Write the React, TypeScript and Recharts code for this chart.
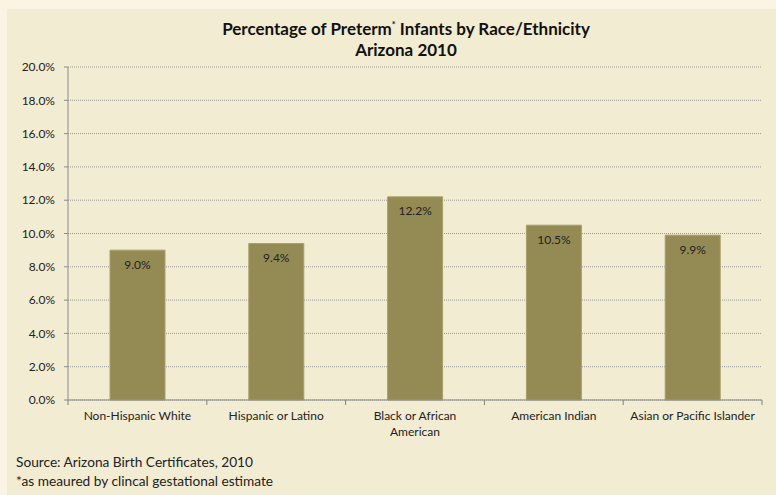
import { BarChart, Bar, XAxis, YAxis, CartesianGrid, LabelList } from "recharts";

const categories = ["Non-Hispanic White", "Hispanic or Latino", "Black or African\nAmerican", "American Indian", "Asian or Pacific Islander"];
const pretermPct = [9.0, 9.4, 12.2, 10.5, 9.9];
const yTicks = [0, 2, 4, 6, 8, 10, 12, 14, 16, 18, 20];

const chartData = categories.map((name, i) => ({ name, value: pretermPct[i] }));

const FONT = "Lato, 'Open Sans', sans-serif";
const HALF_BAND = (776 - 68 - 14) / categories.length / 2;

// Excel-style ticks sit on the category boundaries, not the centres
const CategoryTick = ({ x, y, payload, index }: any) => {
  const lines = String(payload.value).split("\n");
  const last = index === categories.length - 1;
  return (
    <g>
      <line x1={x - HALF_BAND} x2={x - HALF_BAND} y1={y - 8} y2={y - 3} stroke="#808080" strokeWidth={1} />
      {last && <line x1={x + HALF_BAND} x2={x + HALF_BAND} y1={y - 8} y2={y - 3} stroke="#808080" strokeWidth={1} />}
      <text x={x} y={y} textAnchor="middle" fill="#222" fontSize={12} fontFamily={FONT}>
        {lines.map((line, i) => (
          <tspan key={i} x={x} dy={i === 0 ? 12 : 16}>{line}</tspan>
        ))}
      </text>
    </g>
  );
};

const App = () => {
  return (
    <div style={{ position: "absolute", left: 0, top: 0, width: 776, height: 495, background: "#FBF3E4", fontFamily: FONT }}>
      <style>{"body{margin:0}"}</style>
      <div style={{ position: "absolute", left: 7, top: 9, width: 769, height: 486, background: "#F2ECD2" }} />
      <div style={{ position: "absolute", left: 0, top: 0 }}>
        <BarChart width={776} height={495} data={chartData} margin={{ top: 67, right: 14, bottom: 55, left: 0 }} barCategoryGap="30%">
          <CartesianGrid vertical={false} stroke="#9a9a9a" strokeDasharray="1 1" />
          <XAxis dataKey="name" tick={<CategoryTick />} tickLine={false} tickSize={0} tickMargin={8} axisLine={{ stroke: "#8c8c8c" }} height={40} interval={0} />
          <YAxis
            domain={[0, 20]}
            ticks={yTicks}
            tickFormatter={(v) => `${v.toFixed(1)}%`}
            width={68}
            tick={{ fill: "#222", fontSize: 12, fontFamily: FONT }}
            tickLine={{ stroke: "#8c8c8c" }}
            tickSize={4}
            tickMargin={9}
            axisLine={{ stroke: "#8c8c8c" }}
          />
          <Bar dataKey="value" fill="#948A54" stroke="#A89F6E" strokeWidth={1} barSize={55} isAnimationActive={false}>
            <LabelList dataKey="value" position="insideTop" offset={10} formatter={(v: any) => `${Number(v).toFixed(1)}%`} fill="#222" fontSize={12} fontFamily={FONT} />
          </Bar>
        </BarChart>
      </div>
      <div style={{ position: "absolute", left: 0, width: 812, top: 14, textAlign: "center", fontWeight: 700, fontSize: 17, color: "#111", lineHeight: "21px" }}>
        Percentage of Preterm<sup style={{ fontSize: 9, verticalAlign: "7px" }}>*</sup> Infants by Race/Ethnicity
        <br />
        Arizona 2010
      </div>
      <div style={{ position: "absolute", left: 16, top: 452, fontSize: 13.7, color: "#222", lineHeight: "19px" }}>
        Source: Arizona Birth Certificates, 2010
        <br />
        *as meaured by clincal gestational estimate
      </div>
    </div>
  );
};

export default App;
